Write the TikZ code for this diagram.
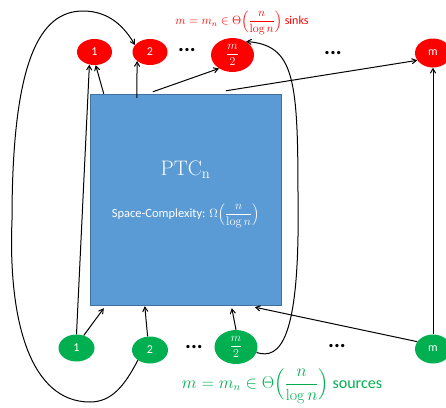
\documentclass[tikz,border=0pt]{standalone}
\usepackage{amsmath}
\usepackage{fontspec}
\setsansfont{Carlito}
\usetikzlibrary{arrows,shapes}
\definecolor{boxblue}{HTML}{5B9BD5}
\definecolor{boxline}{HTML}{41719C}
\definecolor{offgreen}{HTML}{00B050}

\begin{document}
\begin{tikzpicture}[x=1pt,y=-1pt,>=angle 60,
        wire/.style={->,line width=1pt},
        sink/.style={ellipse,fill=red,text=white,inner sep=0pt,minimum width=35pt,minimum height=26pt,font=\sffamily\fontsize{12}{12}\selectfont},
        source/.style={sink,fill=offgreen,minimum width=36pt,minimum height=27pt},
        big/.style={minimum width=43pt,minimum height=34pt,font=\fontsize{12}{12}\selectfont},
        dots/.style={font=\sffamily\bfseries\fontsize{22}{22}\selectfont}]
        \useasboundingbox (0,0) rectangle (446,407);
        \node[rectangle,fill=boxblue,draw=boxline,minimum width=191pt,minimum height=211pt] (ptc) at (185.5,199.5) {};
        \node[text=white,font=\fontsize{21}{21}\selectfont] (name) at (185.5,170) {PTC$_{\mathrm{n}}$};
        \node[text=white,font=\sffamily\fontsize{12.5}{14}\selectfont] (space) at (185.5,216) {Space-Complexity: $\Omega\Bigl(\dfrac{n}{\log n}\Bigr)$};
        \node[text=red,inner sep=0pt,font=\sffamily\fontsize{12}{12}\selectfont] (sinklbl) at (242,23) {$m=m_n\in\Theta\Bigl(\dfrac{n}{\log n}\Bigr)$ sinks};
        \node[text=offgreen,inner sep=0pt,font=\sffamily\fontsize{16}{16}\selectfont] (srclbl) at (282,386) {$m=m_n\in\Theta\Bigl(\dfrac{n}{\log n}\Bigr)$ sources};
        \node[sink] (s1) at (94.5,52) {1};
        \node[sink] (s2) at (150,52) {2};
        \node[dots] (sd1) at (187,50) {...};
        \node[sink,big] (sm2) at (232.5,55) {$\dfrac{m}{2}$};
        \node[dots] (sd2) at (333,53) {...};
        \node[sink,minimum width=36pt,minimum height=29pt] (sm) at (433,53) {m};
        \node[source] (r1) at (76.5,348) {1};
        \node[source] (r2) at (150,350) {2};
        \node[dots] (rd1) at (194,347) {...};
        \node[source,big] (rm2) at (236,347) {$\dfrac{m}{2}$};
        \node[dots] (rd2) at (337,346) {...};
        \node[source,minimum height=29pt] (rm) at (433,349) {m};
        \coordinate (lowturn) at (90,402);
        \coordinate (leftturn) at (12,220);
        \coordinate (topturn) at (83,11);
        \coordinate (rightturn) at (298,200);
        \draw[wire] ([xshift=14pt]ptc.north west) -- (s1.275);
        \draw[wire] ([xshift=47pt,yshift=-4pt]ptc.north west) -- (s2.215);
        \draw[wire] ([xshift=63pt,yshift=2pt]ptc.north west) -- (sm2.225);
        \draw[wire] ([xshift=136pt,yshift=3pt]ptc.north west) -- (sm.205);
        \draw[wire] (r1.north) -- (s1.248);
        \draw[wire] (r1.60) -- ([xshift=14pt,yshift=-3pt]ptc.south west);
        \draw[wire] (r2.100) -- ([xshift=55pt,yshift=-1pt]ptc.south west);
        \draw[wire] (rm2.north) -- ([xshift=142pt,yshift=-3pt]ptc.south west);
        \draw[wire] (rm.155) -- ([xshift=165pt,yshift=-2pt]ptc.south west);
        \draw[wire] (rm.north) -- (sm.south);
        \draw[wire] (r2.220) .. controls (125,385) and (112,402) .. (lowturn)
            .. controls (30,402) and (8,320) .. (leftturn)
            .. controls (12,60) and (40,11) .. (topturn)
            .. controls (110,11) and (125,28) .. (s2.155);
        \draw[wire] (rm2.-15) .. controls (280,360) and (300,340) .. (rightturn)
            .. controls (298,80) and (295,45) .. (sm2.45);
\end{tikzpicture}
\end{document}
